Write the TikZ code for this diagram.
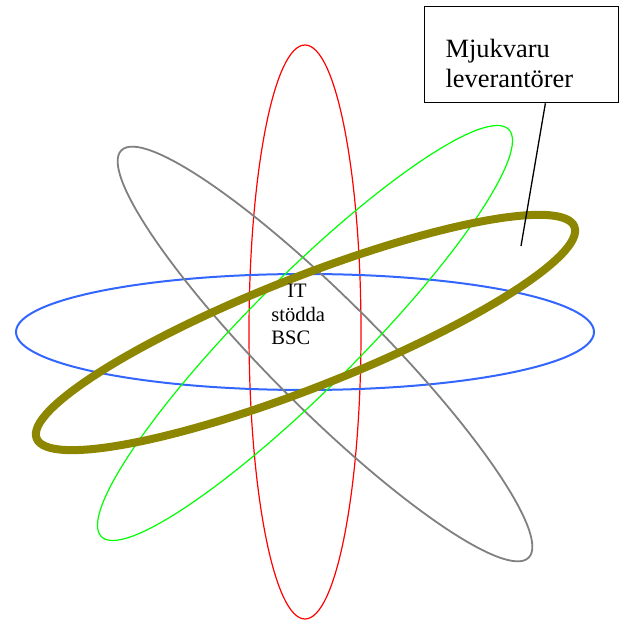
\documentclass[tikz,border=0pt]{standalone}
\usepackage{fontspec}
\setmainfont{Liberation Serif}
\usepackage{tikz}
\usetikzlibrary{positioning}
\definecolor{orbitblue}{RGB}{51,102,255}

\begin{document}
\begin{tikzpicture}[x=0.5bp, y=0.5bp, orbit/.style={line width=0.6bp}, box/.style={draw, line width=0.65bp, align=left, text width=76bp, inner xsep=10.5bp, inner ysep=7.5bp, text height=18bp, text depth=15bp, font=\fontsize{13.25}{15}\selectfont}, label/.style={align=left, inner sep=0pt, font=\fontsize{10.3}{11.75}\selectfont}]
\useasboundingbox (0,0) rectangle (622,620);
\coordinate (c) at (305,288);
\draw[orbit, red] (c) ellipse (56 and 287);
\draw[orbit, line width=1bp, orbitblue] (c) ellipse (289 and 58);
\draw[orbit, line width=0.9bp, gray, rotate around={-45:(325,266)}] (325,266) ellipse (288 and 55);
\draw[orbit, green] (305,287) ellipse [x radius=288, y radius=56, rotate=45];
\draw[line width=4bp, olive] (305.5,287.5) ellipse [x radius=289, y radius=55, rotate=21.5];
\node[label, anchor=north west](bsc) at (271,336){\hspace{8bp}IT\\stödda\\BSC};
\node[box, anchor=north west](lev) at (424,614){Mjukvaru\\leverantörer};
\coordinate (tip) at (521,374);
\draw[line width=0.65bp] (lev.-64)--(tip);
\end{tikzpicture}
\end{document}
